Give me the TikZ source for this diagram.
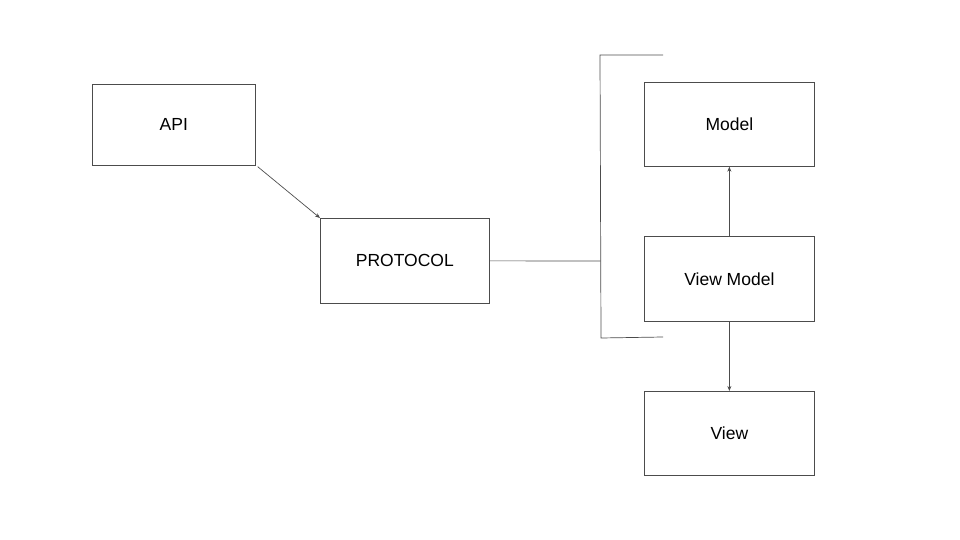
\documentclass[tikz,border=0pt]{standalone}
\usepackage{fontspec}
\setmainfont{Liberation Sans}
\usetikzlibrary{arrows.meta}
\begin{document}
\begin{tikzpicture}[x=1pt,y=-1pt,
  box/.style={draw=black!70,line width=0.7pt,anchor=north west,inner sep=0pt,font=\fontsize{17.5}{20}\selectfont},
  conn/.style={draw=black!70,line width=0.7pt},
  arr/.style={conn,-{Stealth[length=5pt,width=4pt]}}]
\useasboundingbox (0,0) rectangle (960,540);
\node[box,minimum width=163pt,minimum height=81pt] (api) at (92,84) {API};
\node[box,minimum width=169pt,minimum height=85pt] (proto) at (320,218) {PROTOCOL};
\node[box,minimum width=170pt,minimum height=84pt] (model) at (644,82) {Model};
\node[box,minimum width=170pt,minimum height=85pt] (vm) at (644,236) {View Model};
\node[box,minimum width=170pt,minimum height=84pt] (view) at (644,391) {View};
\coordinate (b1) at (663,55);
\coordinate (b2) at (600,55);
\coordinate (bm) at (600.5,261);
\coordinate (b3) at (601,338);
\coordinate (b4) at (663,337);
\draw[conn] (b1) -- (b2) -- (b3) -- (b4);
\draw[conn] (proto.east) -- (bm);
\draw[arr] (api.south east) ++(2,1) -- (proto.north west);
\draw[arr] (vm.north) -- (model.south);
\draw[arr] (vm.south) -- (view.north);
\end{tikzpicture}
\end{document}
